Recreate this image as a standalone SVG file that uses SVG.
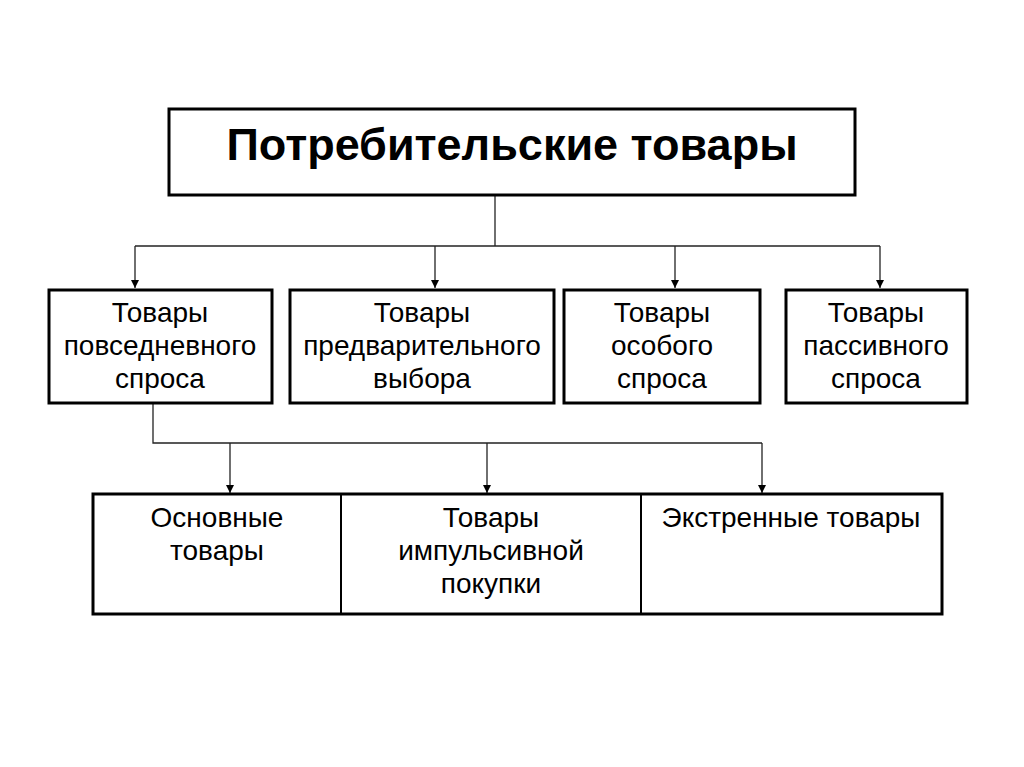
<svg xmlns="http://www.w3.org/2000/svg" width="1024" height="767" viewBox="0 0 1024 767">
<style>
.box{fill:#fff;stroke:#000;stroke-width:3}
.t{font-family:"Liberation Sans",Arial,sans-serif;font-size:28px;fill:#000;text-anchor:middle}
.title{font-family:"Liberation Sans",Arial,sans-serif;font-size:45px;font-weight:bold;fill:#000;text-anchor:middle}
.c{fill:none;stroke:#222;stroke-width:1.3}
</style>
<defs>
<marker id="arr" viewBox="0 0 10 10" refX="10" refY="5" markerWidth="8" markerHeight="8" markerUnits="userSpaceOnUse" orient="auto">
<path d="M0,0 L10,5 L0,10 Z" fill="#000"/>
</marker>
</defs>
<rect width="1024" height="767" fill="#fff"/>
<g id="connectors">
<polyline class="c" points="495,196 495,246"/>
<polyline class="c" points="135,246 880,246"/>
<line class="c" x1="135" y1="246" x2="135" y2="288" marker-end="url(#arr)"/>
<line class="c" x1="435" y1="246" x2="435" y2="288" marker-end="url(#arr)"/>
<line class="c" x1="675" y1="246" x2="675" y2="288" marker-end="url(#arr)"/>
<line class="c" x1="880" y1="246" x2="880" y2="288" marker-end="url(#arr)"/>
<polyline class="c" points="153,403 153,443 762,443"/>
<line class="c" x1="230" y1="443" x2="230" y2="493" marker-end="url(#arr)"/>
<line class="c" x1="487" y1="443" x2="487" y2="493" marker-end="url(#arr)"/>
<line class="c" x1="762" y1="443" x2="762" y2="493" marker-end="url(#arr)"/>
</g>
<g id="root">
<rect class="box" x="169" y="109" width="686" height="86"/>
<text class="title" x="512" y="160">Потребительские товары</text>
</g>
<g id="n1">
<rect class="box" x="49" y="290" width="223" height="113"/>
<text class="t" x="160" y="322">Товары</text>
<text class="t" x="160" y="355">повседневного</text>
<text class="t" x="160" y="388">спроса</text>
</g>
<g id="n2">
<rect class="box" x="290" y="290" width="264" height="113"/>
<text class="t" x="422" y="322">Товары</text>
<text class="t" x="422" y="355">предварительного</text>
<text class="t" x="422" y="388">выбора</text>
</g>
<g id="n3">
<rect class="box" x="564" y="290" width="196" height="113"/>
<text class="t" x="662" y="322">Товары</text>
<text class="t" x="662" y="355">особого</text>
<text class="t" x="662" y="388">спроса</text>
</g>
<g id="n4">
<rect class="box" x="786" y="290" width="181" height="113"/>
<text class="t" x="876" y="322">Товары</text>
<text class="t" x="876" y="355">пассивного</text>
<text class="t" x="876" y="388">спроса</text>
</g>
<g id="table">
<rect class="box" x="93" y="494" width="849" height="120"/>
<line x1="341" y1="494" x2="341" y2="614" stroke="#000" stroke-width="2"/>
<line x1="641" y1="494" x2="641" y2="614" stroke="#000" stroke-width="2"/>
</g>
<g id="b1">
<text class="t" x="217" y="527">Основные</text>
<text class="t" x="217" y="560">товары</text>
</g>
<g id="b2">
<text class="t" x="491" y="527">Товары</text>
<text class="t" x="491" y="560">импульсивной</text>
<text class="t" x="491" y="593">покупки</text>
</g>
<g id="b3">
<text class="t" x="791" y="527">Экстренные товары</text>
</g>
</svg>
